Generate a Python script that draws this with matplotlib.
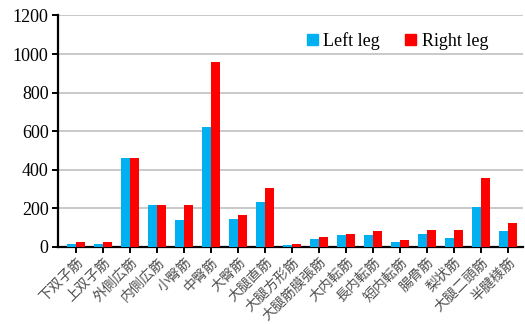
import numpy as np
import matplotlib.pyplot as plt
from matplotlib.patches import Patch

# =========================
# data
# =========================
muscles = ["下双子筋", "上双子筋", "外側広筋", "内側広筋", "小臀筋", "中臀筋", "大臀筋",
           "大腿直筋", "大腿方形筋", "大腿筋膜張筋", "大内転筋", "長内転筋", "短内転筋",
           "腸骨筋", "梨状筋", "大腿二頭筋", "半腱様筋"]
left_leg = [12, 12, 459, 216, 139, 622, 144, 230, 9, 38, 59, 61, 26, 68, 47, 206, 80]
right_leg = [26, 22, 461, 215, 218, 956, 163, 303, 12, 50, 68, 80, 35, 87, 87, 357, 125]
y_ticks = [0, 200, 400, 600, 800, 1000, 1200]

# =========================
# plot
# =========================
fig = plt.figure(figsize=(5.25, 3.24), dpi=100)
ax = fig.add_axes([0.111, 0.2386, 0.885, 0.7136])

x = np.arange(len(muscles))
w = 0.33
ax.bar(x - w / 2, left_leg, width=w, color="#00B0F0", zorder=3)
ax.bar(x + w / 2, right_leg, width=w, color="#FF0000", zorder=3)

ax.set_ylim(0, 1200)
ax.set_xlim(-0.655, 16.56)
ax.set_yticks(y_ticks)
ax.set_yticklabels([str(v) for v in y_ticks], family="Liberation Serif", fontsize=13)
ax.set_xticks(x)
ax.set_xticklabels(muscles, rotation=45, ha="right", rotation_mode="anchor",
                   family=["Noto Sans CJK JP", "DejaVu Sans"], fontsize=10, color="#505050")

ax.yaxis.grid(True, color="#C0C0C0", linewidth=1.2, zorder=0)
ax.set_axisbelow(True)
for s in ["top", "right"]:
    ax.spines[s].set_visible(False)
ax.spines["left"].set_linewidth(1.6)
ax.spines["bottom"].set_linewidth(1.6)
ax.tick_params(axis="both", direction="out", length=4, width=1.4, pad=3)
ax.tick_params(axis="x", pad=2)

handles = [Patch(color="#00B0F0", label="Left leg"), Patch(color="#FF0000", label="Right leg")]
ax.legend(handles=handles, loc="upper right", bbox_to_anchor=(0.96, 1.0), ncol=2,
          frameon=False, prop={"family": "Liberation Serif", "size": 13},
          handlelength=0.6, handleheight=0.6, handletextpad=0.3, columnspacing=1.4)

plt.savefig("out.png", dpi=100)
plt.close(fig)
